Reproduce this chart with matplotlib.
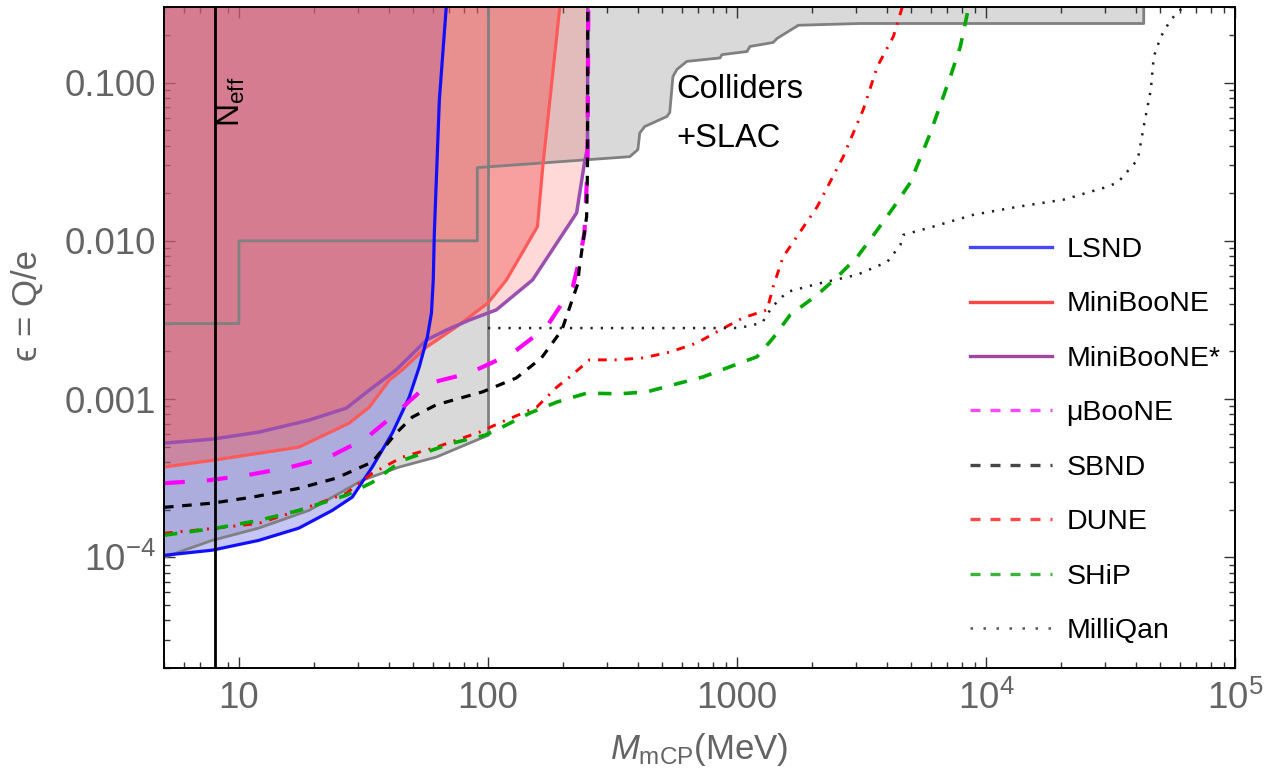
import matplotlib
matplotlib.use('Agg')
import matplotlib.pyplot as plt
import numpy as np
from matplotlib.lines import Line2D
from matplotlib.ticker import NullFormatter, LogLocator

plt.rcParams['font.family'] = ['Liberation Sans', 'DejaVu Sans']
plt.rcParams['mathtext.fontset'] = 'custom'
plt.rcParams['mathtext.rm'] = 'Liberation Sans'
plt.rcParams['mathtext.it'] = 'Liberation Sans:italic'

""" ---------------- data (MeV, epsilon) ---------------- """
# colliders + SLAC boundary
slac_m = [5, 10, 10, 90.6, 90.6, 194, 371, 400, 407, 426, 523, 537, 553, 574, 629, 855,
          870, 1097, 1128, 1396, 1450, 1763, 3126, 43000, 43000]
slac_eps = [0.003, 0.003, 0.01, 0.01, 0.029, 0.0316, 0.034, 0.0377, 0.048, 0.0527, 0.061,
            0.0646, 0.109, 0.121, 0.136, 0.143, 0.15, 0.157, 0.169, 0.179, 0.19, 0.23,
            0.236, 0.236, 1.0]
# lower boundary of previous beam dump bounds
lower_m = [5, 7.8, 12, 19.1, 31.3, 44, 62, 100]
lower_eps = [1.0e-4, 1.28e-4, 1.53e-4, 1.98e-4, 3.07e-4, 3.72e-4, 4.3e-4, 5.9e-4]

lsnd_m = [5, 7.8, 12, 17.4, 23.7, 28.5, 34.3, 41.3, 48.3, 53, 57.1, 59.3, 60.3, 60.9, 63.8, 68.5]
lsnd_eps = [1.03e-4, 1.11e-4, 1.28e-4, 1.53e-4, 1.98e-4, 2.4e-4, 3.72e-4, 6.1e-4, 1.03e-3,
            1.6e-3, 2.47e-3, 3.5e-3, 5.66e-3, 0.0112, 0.078, 0.35]

mb_m = [5, 7.8, 17.4, 27.7, 33.4, 40.2, 45.3, 56.6, 74.7, 100, 118.6, 158, 166, 196]
mb_eps = [3.72e-4, 4.1e-4, 4.97e-4, 7.05e-4, 8.9e-4, 1.32e-3, 1.53e-3, 2.13e-3, 2.86e-3,
          4.05e-3, 5.66e-3, 0.0123, 0.0294, 0.34]

mbs_m = [5, 7.8, 12, 19.1, 27, 33.4, 42.8, 56.6, 68.1, 84.3, 108, 151, 227, 244, 251, 252]
mbs_eps = [5.27e-4, 5.58e-4, 6.18e-4, 7.36e-4, 8.77e-4, 1.14e-3, 1.53e-3, 2.36e-3, 2.73e-3,
           3.16e-3, 3.66e-3, 5.66e-3, 0.015, 0.031, 0.039, 1.0]

ub_m = [5, 7.57, 10.7, 15.9, 23, 32.4, 42.8, 58.2, 84.3, 125.5, 172, 219, 233, 244, 251, 254]
ub_eps = [2.94e-4, 3.07e-4, 3.3e-4, 3.7e-4, 4.3e-4, 5.66e-4, 8.15e-4, 1.26e-3, 1.46e-3,
          1.95e-3, 2.86e-3, 5.1e-3, 7.6e-3, 0.0112, 0.029, 1.0]

sbnd_m = [5, 7.8, 11.3, 17.4, 24.5, 34.3, 42.8, 49.7, 62, 95, 130, 164, 198, 229, 233, 249,
          251, 252]
sbnd_eps = [2.07e-4, 2.2e-4, 2.4e-4, 2.73e-4, 3.16e-4, 4.0e-4, 6.1e-4, 7.7e-4, 9.2e-4,
            1.11e-3, 1.36e-3, 1.82e-3, 2.73e-3, 5.3e-3, 6.8e-3, 0.0142, 0.029, 1.0]

dune_m = [5, 8.1, 12, 17.4, 27, 34.3, 45.3, 62, 92.4, 111, 157, 189, 213, 256, 329, 419,
          537, 690, 855, 1057, 1321, 1396, 1531, 2099, 2671, 3214, 3659, 4246, 4750]
dune_eps = [1.42e-4, 1.53e-4, 1.64e-4, 1.98e-4, 2.54e-4, 3.4e-4, 4.3e-4, 4.97e-4, 6.18e-4,
            7.05e-4, 8.9e-4, 1.19e-3, 1.38e-3, 1.77e-3, 1.77e-3, 1.82e-3, 1.98e-3, 2.26e-3,
            2.73e-3, 3.26e-3, 3.66e-3, 5.1e-3, 7.9e-3, 0.0164, 0.034, 0.0675, 0.126, 0.195,
            0.35]

ship_m = [5, 8.1, 12, 17.4, 27, 34.3, 45.3, 72, 97, 114, 147, 189, 249, 338, 434, 553, 730,
          937, 1203, 1396, 1634, 2099, 2525, 3040, 3659, 4246, 4966, 5980, 7195, 7890, 8700]
ship_eps = [1.38e-4, 1.53e-4, 1.71e-4, 1.98e-4, 2.47e-4, 2.98e-4, 4.1e-4, 5.27e-4, 5.9e-4,
            6.65e-4, 8.15e-4, 9.57e-4, 1.09e-3, 1.08e-3, 1.11e-3, 1.23e-3, 1.38e-3, 1.6e-3,
            1.85e-3, 2.43e-3, 3.4e-3, 4.55e-3, 5.9e-3, 7.9e-3, 0.0117, 0.0162, 0.0233, 0.048,
            0.109, 0.169, 0.35]

mq_m = [100, 937, 1028, 1261, 1383, 1589, 2099, 3040, 4015, 4529, 4656, 6146, 8906, 13390,
        20500, 29700, 33800, 40700, 43000, 45900, 47200, 50380, 55270, 60640, 64000]
mq_eps = [2.81e-3, 2.81e-3, 2.82e-3, 3.03e-3, 3.82e-3, 4.75e-3, 5.34e-3, 6.1e-3, 7.36e-3,
          9.4e-3, 0.0109, 0.0123, 0.0146, 0.0164, 0.0182, 0.0216, 0.0233, 0.0326, 0.0527,
          0.09, 0.146, 0.195, 0.25, 0.29, 0.31]

neff_m = 8.0
wall_m = 100

xticks = [10, 100, 1000, 1e4, 1e5]
xticklabels = ['10', '100', '1000', r'$10^4$', r'$10^5$']
yticks = [1e-4, 1e-3, 1e-2, 1e-1]
yticklabels = [r'$10^{-4}$', '0.001', '0.010', '0.100']

labels = ['LSND', 'MiniBooNE', 'MiniBooNE*', 'μBooNE', 'SBND', 'DUNE', 'SHiP', 'MilliQan']

""" ----------------------------------------- """
fig = plt.figure(figsize=(12.64, 7.79), dpi=100)
ax = fig.add_axes([164/1264, 1-668/779, (1235-164)/1264, (668-7)/779])
ax.set_xscale('log')
ax.set_yscale('log')
ax.set_xlim(5, 1e5)
ax.set_ylim(2e-5, 0.3)

gray_fill = '#d9d9d9'
gray_line = '#808080'

# excluded regions
ax.fill_between(slac_m, slac_eps, 1, color=gray_fill, lw=0, zorder=1)
ax.fill_between(lower_m, lower_eps, 1, color=gray_fill, lw=0, zorder=1)
ax.fill_between(lsnd_m, lsnd_eps, 1, color='#5a5ae6', alpha=0.35, lw=0, zorder=2)
ax.fill_between(mbs_m, mbs_eps, 1, color='#ff6464', alpha=0.25, lw=0, zorder=3)
ax.fill_between(mb_m, mb_eps, 1, color='#f05a5a', alpha=0.45, lw=0, zorder=4)

ax.plot(slac_m, slac_eps, color=gray_line, lw=2, zorder=5)
ax.plot(lower_m, lower_eps, color=gray_line, lw=2, zorder=5)
ax.vlines(wall_m, lower_eps[-1], 1, color=gray_line, lw=2, zorder=5)

ax.plot(lsnd_m, lsnd_eps, color='#1010ff', lw=2.3, zorder=7)
ax.plot(mb_m, mb_eps, color='#ff5a5a', lw=2.3, zorder=6)
ax.plot(mbs_m, mbs_eps, color='#9b50b0', lw=2.5, zorder=6)

ax.plot(ub_m, ub_eps, color='#ff00ff', lw=3, dashes=(5, 5.3), zorder=8)
ax.plot(sbnd_m, sbnd_eps, color='black', lw=2.3, dashes=(3, 2.7), zorder=8)
ax.plot(dune_m, dune_eps, color='#ff0000', lw=2.1, dashes=(3, 2.7, 0.7, 2.7), zorder=8)
ax.plot(ship_m, ship_eps, color='#00a800', lw=2.6, dashes=(3.7, 3.4), zorder=8)
ax.plot(mq_m, mq_eps, color='#202020', lw=1.8, dashes=(0.9, 3.2), zorder=8)

ax.axvline(neff_m, color='black', lw=2, zorder=9)
ax.text(9.37, 0.0527, r'N$_{\rm eff}$', rotation=90, ha='center', va='bottom',
        fontsize=23, color='black', zorder=10)
ax.text(573, 0.0804, 'Colliders', fontsize=23.5, va='baseline', zorder=10)
ax.text(573, 0.0394, '+SLAC', fontsize=23.5, va='baseline', zorder=10)

# ticks and frame
ax.set_xticks(xticks)
ax.set_xticklabels(xticklabels)
ax.set_yticks(yticks)
ax.set_yticklabels(yticklabels)
ax.xaxis.set_minor_locator(LogLocator(base=10, subs=np.arange(2, 10), numticks=20))
ax.yaxis.set_minor_locator(LogLocator(base=10, subs=np.arange(2, 10), numticks=20))
ax.xaxis.set_minor_formatter(NullFormatter())
ax.yaxis.set_minor_formatter(NullFormatter())
ax.tick_params(which='both', direction='in', top=True, right=True, color='#333333',
               labelcolor='#646464', labelsize=26.5, width=1)
ax.tick_params(which='major', length=8)
ax.tick_params(which='minor', length=4.5)
ax.tick_params(axis='x', pad=9)
ax.tick_params(axis='y', pad=6)
for s in ax.spines.values():
    s.set_linewidth(1.4)
    s.set_color('black')
    s.set_zorder(12)

ax.set_xlabel(r'$M_{\rm mCP}$(MeV)', fontsize=25, color='#646464', labelpad=10)
ax.set_ylabel('ϵ = Q/e', fontsize=25, color='#646464')
ax.yaxis.set_label_coords(-0.112, 0.549)

handles = [
    Line2D([], [], color='#4646ff', lw=2.4),
    Line2D([], [], color='#ff4646', lw=2.4),
    Line2D([], [], color='#a046a0', lw=2.4),
    Line2D([], [], color='#ff46ff', lw=2.4, dashes=(3, 3)),
    Line2D([], [], color='#464646', lw=2.4, dashes=(3, 3)),
    Line2D([], [], color='#ff4646', lw=2.4, dashes=(3, 3)),
    Line2D([], [], color='#3cb43c', lw=2.4, dashes=(3, 3)),
    Line2D([], [], color='#555555', lw=1.8, dashes=(1, 4.2)),
]
leg = ax.legend(handles, labels, loc='upper left', bbox_to_anchor=(970/1264, 1-237/779),
                bbox_transform=fig.transFigure, frameon=False, borderpad=0,
                borderaxespad=0, handlelength=2.88, handletextpad=0.5,
                labelspacing=1.0, fontsize=20.5)
leg.set_zorder(11)

fig.savefig('out.png', dpi=100)
